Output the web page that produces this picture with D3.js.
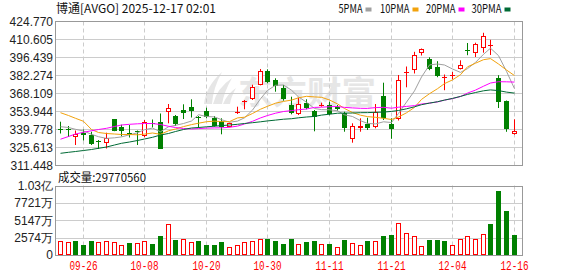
<!DOCTYPE html>
<html>
<head>
<meta charset="utf-8">
<script src="https://cdn.jsdelivr.net/npm/d3@7"></script>
<style>
  body { margin: 0; background: #fff; }
  svg text { font-family: "Liberation Sans", Arial, sans-serif; }
</style>
</head>
<body>
<div id="chart"></div>
<script>
// ---- data ----
const dates = [
  "09-23","09-24","09-25","09-26","09-29","09-30","10-01","10-02","10-03","10-06",
  "10-07","10-08","10-09","10-10","10-13","10-14","10-15","10-16","10-17","10-20",
  "10-21","10-22","10-23","10-24","10-27","10-28","10-29","10-30","10-31","11-03",
  "11-04","11-05","11-06","11-07","11-10","11-11","11-12","11-13","11-14","11-17",
  "11-18","11-19","11-20","11-21","11-24","11-25","11-26","11-28","12-01","12-02",
  "12-03","12-04","12-05","12-08","12-09","12-10","12-11","12-12","12-15","12-16"];

const open = [
  340.17,340.40,333.64,337.26,335.84,330.72,329.39,347.88,341.74,337.41,
  338.36,334.66,345.28,345.68,353.31,350.40,355.12,357.24,350.00,354.33,
  349.06,346.46,341.98,353.55,361.81,363.78,374.80,386.05,378.73,372.67,
  359.45,351.97,360.87,354.33,358.66,359.05,357.72,352.52,332.06,340.72,
  343.87,341.50,366.14,343.87,348.04,385.03,386.36,400.37,395.26,388.80,
  380.93,382.19,387.15,402.73,399.82,403.76,405.49,380.15,362.20,336.47];
const high = [
  345.91,342.53,338.99,339.77,338.04,331.51,337.26,348.04,343.55,343.31,
  338.99,347.25,347.64,352.37,359.84,351.18,359.61,363.54,350.40,356.93,
  350.40,348.59,345.13,357.72,362.99,375.03,387.39,387.15,380.07,374.80,
  365.59,364.80,363.54,355.12,360.87,361.65,359.05,353.78,344.65,348.59,
  349.06,359.84,376.61,348.59,382.67,389.35,400.92,403.52,396.59,393.53,
  383.06,385.03,394.23,407.85,408.09,415.88,410.37,382.51,362.60,347.80];
const low = [
  336.63,333.87,327.57,331.12,327.57,324.43,324.82,338.44,334.42,333.48,
  327.57,333.64,341.35,324.43,344.65,342.53,348.04,349.22,340.95,348.59,
  341.98,336.00,341.50,351.97,355.67,362.99,374.56,376.13,369.52,362.44,
  351.74,351.18,355.67,338.36,357.72,350.95,354.57,338.04,329.39,338.04,
  339.38,340.72,347.25,332.45,346.86,372.98,383.85,398.01,386.44,380.93,
  370.70,379.28,386.99,398.25,396.83,400.22,398.41,356.69,337.96,335.68];
const close = [
  339.85,340.09,336.23,335.21,328.76,330.33,333.32,338.59,338.83,337.02,
  338.04,345.44,344.89,324.66,356.46,344.10,352.37,354.57,349.61,349.37,
  342.53,341.50,344.65,353.94,362.20,372.98,386.05,377.39,374.01,363.54,
  352.52,359.61,356.46,349.37,359.05,351.97,355.67,340.72,342.53,342.76,
  341.19,353.78,348.82,340.01,378.49,385.42,398.17,403.52,387.39,382.27,
  381.25,382.51,390.30,402.10,406.67,413.20,406.51,361.26,340.01,338.44];
const prevClose = 339.0; // close of the day before the first candle

const volume = [
  21800000,20300000,21800000,15400000,21800000,19900000,21300000,20300000,15000000,18800000,
  18800000,21300000,17400000,28700000,45900000,22800000,23800000,20300000,21300000,15400000,
  15400000,19400000,12100000,15400000,19400000,21300000,23800000,24300000,21300000,16900000,
  24300000,16900000,19900000,21300000,16900000,16900000,12100000,22800000,17900000,15000000,
  21300000,21300000,28700000,30200000,47400000,32700000,28200000,13500000,22800000,22800000,
  21300000,15000000,23800000,29100000,23800000,31200000,46300000,94900000,65500000,29770560];

const ma5 = [
  341.98,341.35,339.93,338.59,336.00,334.11,332.77,333.24,333.95,335.60,
  337.18,339.62,340.88,338.04,341.90,343.08,344.50,346.46,351.42,350.00,
  349.69,347.49,345.52,346.38,348.98,355.04,363.93,370.55,374.56,374.80,
  370.70,365.43,361.26,356.30,355.43,355.28,354.49,351.34,350.00,346.70,
  344.57,344.18,345.83,345.28,352.44,361.34,370.15,381.09,390.61,391.32,
  390.54,387.39,384.71,387.70,392.58,398.96,403.76,397.93,385.50,371.88];
const ma10 = [
  353.00,350.79,348.59,346.23,339.77,337.41,336.63,336.23,335.84,335.84,
  335.60,336.15,337.02,336.00,338.75,340.17,342.06,343.63,344.73,345.91,
  346.38,345.99,345.99,348.90,349.45,352.37,355.75,358.03,360.47,361.89,
  362.91,364.72,365.90,365.43,365.11,362.99,359.92,356.30,353.15,351.03,
  349.93,349.37,348.59,347.64,349.61,352.92,357.17,363.46,367.95,371.88,
  375.90,378.81,382.90,389.12,391.95,394.71,395.57,391.32,386.60,382.19];
const ma20 = [
  332.14,334.26,336.23,337.57,338.83,339.77,340.72,342.13,343.31,343.87,
  344.26,344.50,344.50,343.71,342.29,341.35,340.56,340.17,340.48,340.88,
  341.03,341.11,341.50,342.45,344.10,346.23,348.90,350.79,352.60,353.94,
  354.65,355.36,355.91,357.17,357.32,357.72,357.87,357.17,356.77,356.46,
  356.38,357.01,357.24,356.54,357.32,357.95,358.58,359.84,360.55,361.49,
  362.91,364.09,365.74,368.42,370.78,373.85,376.37,377.39,377.31,377.08];
const ma30 = [
  321.04,321.83,322.46,323.25,324.03,324.98,326.00,327.57,328.91,329.94,
  331.12,332.30,333.64,335.44,336.63,338.20,339.77,340.95,341.35,341.90,
  342.37,342.84,343.31,343.87,344.50,345.13,345.83,346.54,347.17,347.88,
  348.27,348.98,349.61,350.08,351.11,351.81,352.60,352.68,352.76,353.00,
  353.07,353.31,353.47,354.02,354.73,356.06,357.64,359.29,360.55,361.65,
  362.91,364.25,365.82,367.40,368.89,370.23,370.94,370.39,369.21,368.42];

const priceTicks = [311.448,325.613,339.778,353.944,368.109,382.274,396.439,410.605,424.770];
const volTicks = [0,25740000,51470000,77210000,102960000];
const volTickLabels = ["0","2574万","5147万","7721万","1.03亿"];
const dateTicks = ["09-26","10-08","10-20","10-30","11-11","11-21","12-04","12-16"];
const maNames = ["5PMA","10PMA","20PMA","30PMA"];
const maColors = ["#a0a0a0","#f2a20c","#ff00ff","#006a35"];

// ---- layout ----
const W = 578, H = 276;
const L = 55.5, R = 522.5;
const mainTop = 21.5, mainBot = 165.5;
const volTop = 185.5, volBot = 255.5;
const RED = "#ff0000", GREEN = "#008000", GRID = "#cccccc", FRAME = "#999999";

const svg = d3.select("#chart").append("svg")
  .attr("width", W).attr("height", H)
  .style("display", "block");

const x = d3.scaleBand().domain(dates).range([56, 517.4]);
const cx = d => Math.round(x(d) + x.bandwidth() / 2);
const y = d3.scaleLinear().domain([priceTicks[0], priceTicks[priceTicks.length - 1]]).range([mainBot, mainTop]);
const yv = d3.scaleLinear().domain([0, volTicks[volTicks.length - 1]]).range([volBot, volTop]);

// watermark
const wm = svg.append("g").attr("fill", "#e6e6e6");
wm.append("path").attr("d", "M204,104 Q206,86 222,72 Q213,88 212,104 Z");
wm.append("path").attr("d", "M213,104 Q217,88 232,78 Q224,92 222,104 Z");
wm.append("path").attr("d", "M223,104 Q227,94 236,88 Q231,97 230,104 Z");
wm.append("text").attr("x", 238).attr("y", 104)
  .style("font-family", "'Noto Sans CJK SC'").style("font-size", "32px").style("font-weight", "bold")
  .attr("textLength", 138).attr("lengthAdjust", "spacingAndGlyphs")
  .text("东方财富");

// horizontal grid, main panel
svg.append("g").selectAll("line").data(priceTicks.slice(1, -1)).enter().append("line")
  .attr("x1", L).attr("x2", R)
  .attr("y1", d => Math.round(y(d) - 0.5) + 0.5).attr("y2", d => Math.round(y(d) - 0.5) + 0.5)
  .attr("stroke", GRID);

// horizontal grid, volume panel
svg.append("g").selectAll("line").data(volTicks.slice(1, -1)).enter().append("line")
  .attr("x1", L).attr("x2", R)
  .attr("y1", d => Math.round(yv(d) - 0.5) + 0.5).attr("y2", d => Math.round(yv(d) - 0.5) + 0.5)
  .attr("stroke", GRID);

// vertical dashed grid
dateTicks.forEach(t => {
  [[mainTop, mainBot], [volTop, volBot]].forEach(([a, b]) => {
    svg.append("line")
      .attr("x1", cx(t) + 0.5).attr("x2", cx(t) + 0.5)
      .attr("y1", a).attr("y2", b)
      .attr("stroke", GRID).attr("stroke-dasharray", "4,3");
  });
});

// frames
svg.append("rect").attr("x", L).attr("y", mainTop).attr("width", R - L).attr("height", mainBot - mainTop)
  .attr("fill", "none").attr("stroke", FRAME);
svg.append("rect").attr("x", L).attr("y", volTop + 1).attr("width", R - L).attr("height", volBot - volTop - 1)
  .attr("fill", "none").attr("stroke", FRAME);

// y labels
svg.append("g").selectAll("text").data(priceTicks).enter().append("text")
  .attr("x", 53).attr("y", d => y(d)).attr("dy", "0.36em")
  .attr("text-anchor", "end").style("font-size", "12px").attr("fill", "#222")
  .text(d => d.toFixed(3));
svg.append("g").selectAll("text").data(volTicks).enter().append("text")
  .attr("x", 53).attr("y", d => Math.min(yv(d), volBot - 1)).attr("dy", "0.36em")
  .attr("text-anchor", "end").style("font-size", "12px").attr("fill", "#222")
  .text((d, i) => volTickLabels[i]);

// x labels
svg.append("g").selectAll("text").data(dateTicks).enter().append("text")
  .attr("x", d => cx(d) + 0.5).attr("y", 270)
  .attr("text-anchor", "middle").attr("fill", RED)
  .style("font-family", "'Liberation Mono', monospace").style("font-size", "12px")
  .attr("textLength", 28).attr("lengthAdjust", "spacingAndGlyphs")
  .text(d => d);

// title + legend
svg.append("text").attr("x", 56).attr("y", 12.5)
  .style("font-family", "'Noto Sans CJK SC'").style("font-size", "12px").attr("fill", "#111")
  .attr("textLength", 160).attr("lengthAdjust", "spacingAndGlyphs")
  .text("博通[AVGO] 2025-12-17 02:01");

const legX = [338.5, 380, 426, 471.5];
const legLen = [24, 29.5, 29.5, 30];
maNames.forEach((n, i) => {
  svg.append("text").attr("x", legX[i]).attr("y", 12.5)
    .style("font-family", "'Noto Sans CJK SC'").style("font-size", "12px").attr("fill", "#111")
    .attr("textLength", legLen[i]).attr("lengthAdjust", "spacingAndGlyphs")
    .text(n);
  svg.append("rect").attr("x", legX[i] + legLen[i] + 3).attr("y", 7.5)
    .attr("width", 6).attr("height", 4).attr("fill", maColors[i]);
});

// volume label
svg.append("text").attr("x", 58).attr("y", 181.5)
  .style("font-family", "'Noto Sans CJK SC'").style("font-size", "12px").attr("fill", "#111")
  .attr("textLength", 88).attr("lengthAdjust", "spacingAndGlyphs")
  .text("成交量:" + volume[volume.length - 1]);

// candles
const candles = svg.append("g");
dates.forEach((d, i) => {
  const px = cx(d);
  const up = close[i] > open[i];
  const col = up ? RED : GREEN;
  candles.append("line")
    .attr("x1", px + 0.5).attr("x2", px + 0.5)
    .attr("y1", y(high[i])).attr("y2", y(low[i]))
    .attr("stroke", col);
  const top = Math.round(y(Math.max(open[i], close[i])));
  const bot = Math.round(y(Math.min(open[i], close[i])));
  if (bot - top < 2) {
    candles.append("line")
      .attr("x1", px - 2).attr("x2", px + 3)
      .attr("y1", top + 0.5).attr("y2", top + 0.5)
      .attr("stroke", col);
  } else if (up) {
    candles.append("rect").attr("x", px - 1.5).attr("y", top + 0.5)
      .attr("width", 4).attr("height", bot - top - 1)
      .attr("fill", "#fff").attr("stroke", col);
  } else {
    candles.append("rect").attr("x", px - 2).attr("y", top)
      .attr("width", 5).attr("height", bot - top)
      .attr("fill", col);
  }
});

// moving averages
const maLine = d3.line().x((v, i) => cx(dates[i]) + 0.5).y(v => y(v));
[ma5, ma10, ma20, ma30].forEach((s, k) => {
  svg.append("path").datum(s).attr("d", maLine)
    .attr("fill", "none").attr("stroke", maColors[k]).attr("stroke-width", 1);
});

// volume bars, coloured by change versus previous close
const vols = svg.append("g");
dates.forEach((d, i) => {
  const px = cx(d);
  const pc = i === 0 ? prevClose : close[i - 1];
  const up = close[i] >= pc;
  const top = Math.round(yv(volume[i]));
  const bot = Math.round(volBot - 0.5);
  if (up) {
    vols.append("rect").attr("x", px - 1.5).attr("y", top + 0.5)
      .attr("width", 4).attr("height", bot - top - 1)
      .attr("fill", "#fff").attr("stroke", RED);
  } else {
    vols.append("rect").attr("x", px - 2).attr("y", top)
      .attr("width", 5).attr("height", bot - top)
      .attr("fill", GREEN);
  }
});
</script>
</body>
</html>
